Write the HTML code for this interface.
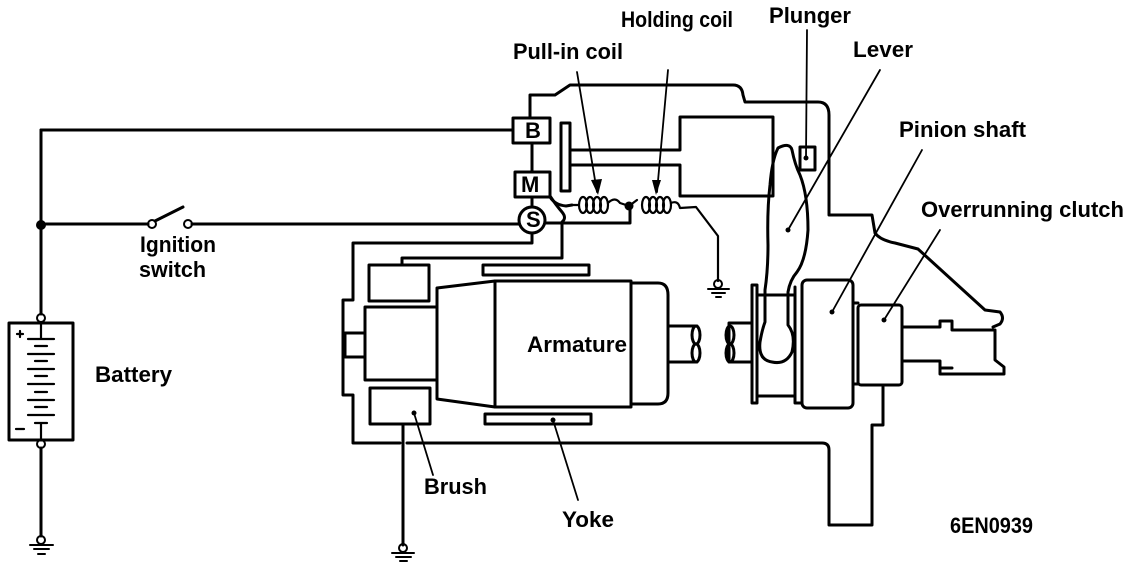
<!DOCTYPE html>
<html><head><meta charset="utf-8"><style>
html,body{margin:0;padding:0;background:#fff;}
svg{display:block}
text{font-family:"Liberation Sans",Arial,sans-serif;font-size:22px;fill:#000;font-weight:bold;}
</style></head><body>
<svg width="1136" height="574" viewBox="0 0 1136 574" xmlns="http://www.w3.org/2000/svg">
<g fill="none" stroke="#000" stroke-width="3" stroke-linejoin="round" stroke-linecap="round">
<path d="M41,130 H513"/>
<path d="M41,130 V314"/>
<path d="M41,224 H148"/>
<circle cx="152" cy="224" r="4" stroke-width="2"/>
<path d="M155,221 L183,207"/>
<circle cx="188" cy="224" r="4" stroke-width="2"/>
<path d="M192,224 H519"/>
<circle cx="41" cy="318" r="4" stroke-width="2"/>
<circle cx="41" cy="444" r="4" stroke-width="2"/>
<rect x="9" y="323" width="64" height="117"/>
<path d="M41,448 V536"/>
<g stroke-width="2.2">
<path d="M41,323 V339 M28,339 H54 M35,346 H47 M28,354 H54 M35,361 H47 M28,369 H54 M35,376 H47 M28,384 H54 M35,392 H47 M28,400 H54 M35,407 H47 M28,415 H54 M35,423 H47 M41,423 V440"/>
<path d="M17,334 H23 M20,331 V337 M16,429 H24"/>
</g>
<g stroke-width="2"><circle cx="41" cy="540" r="4"/><path d="M30,545 H53 M34,549 H49 M38,554 H45"/></g>
<rect x="513" y="118" width="37" height="25"/>
<rect x="515" y="172" width="35" height="25"/>
<circle cx="532" cy="220" r="13"/>
<path d="M530,118 V95 H555 L570,85 H733 Q742,85 743,95 L745,102 H818 Q829,102 829,115 V215 H872 L875,233 Q880,240 895,243 L918,249 L985,310 L1000,312 Q1005,318 1000,324 L993,327"/>
<path d="M532,143 V172 M532,197 V207 M532,233 V243 H353 V300 H343 V395 H353 V443 H400 M407,443 H822 Q829,443 829,450 V525 H872 V425 H883 V387"/>
<rect x="561" y="123" width="9" height="68"/>
<path d="M570,150 H680 V117 H773 V196 H680 V165 H570"/>
<path d="M550,197 Q555,205 566,206 L572,205"/>
<path d="M550,196 Q556,205 562,212 Q567,218 562,222 V258 H402 V264"/>
<path d="M545,223 H630 V207"/>
<g stroke-width="2.2">
<path d="M572,205 H578"/>
<ellipse cx="583" cy="205" rx="4" ry="8"/><ellipse cx="590" cy="205" rx="4" ry="8"/><ellipse cx="597" cy="205" rx="4" ry="8"/><ellipse cx="604" cy="205" rx="4" ry="8"/>
<path d="M608,203 Q615,196 620,203 L629,206 L637,200"/>
<ellipse cx="646" cy="205" rx="4" ry="8"/><ellipse cx="653" cy="205" rx="4" ry="8"/><ellipse cx="660" cy="205" rx="4" ry="8"/><ellipse cx="667" cy="205" rx="4" ry="8"/>
<path d="M671,203 Q678,200 680,208 L696,207 L718,236 V281"/>
</g>
<circle cx="629" cy="206" r="3" fill="#000"/>
<g stroke-width="2"><circle cx="718" cy="284" r="4"/><path d="M708,289 H729 M712,293 H725 M716,297 H721"/></g>
<rect x="369" y="265" width="60" height="36"/>
<rect x="365" y="307" width="72" height="73"/>
<path d="M365,333 H345 V357 H365"/>
<path d="M437,288 L495,281 V407 L437,399 Z"/>
<rect x="495" y="281" width="136" height="126"/>
<path d="M631,283 H658 Q668,283 668,295 V393 Q668,404 658,404 H631"/>
<path d="M668,326 H697 M668,362 H697"/>
<ellipse cx="696" cy="335" rx="4" ry="9"/><ellipse cx="696" cy="353" rx="4" ry="9"/>
<rect x="370" y="388" width="60" height="36"/>
<rect x="483" y="265" width="106" height="10"/>
<rect x="485" y="414" width="106" height="10"/>
<path d="M403,424 V545"/>
<g stroke-width="2"><circle cx="403" cy="548" r="4"/><path d="M392,553 H414 M396,557 H411 M400,561 H407"/></g>
<path d="M752,323 H729 V362 H752"/>
<ellipse cx="730" cy="335" rx="4" ry="9"/><ellipse cx="730" cy="353" rx="4" ry="9"/>
<rect x="752" y="285" width="5" height="118"/>
<path d="M757,295 H795 M757,396 H795 M795,287 V403 H802"/>
<rect x="802" y="280" width="51" height="128" rx="5"/>
<path d="M853,303 H858 M853,384 H858"/>
<rect x="858" y="305" width="44" height="80" rx="3"/>
<path d="M902,327 H940 V321 H952 V330 H995 V360 L1004,367 V374 H940 V368 H952 M902,361 H940 V368"/>
<rect x="800" y="147" width="15" height="23"/>
<path d="M778,148 Q790,142 792,150 Q795,165 800,175 Q808,195 808,230 Q806,260 797,272 Q790,280 788,292 V325 Q796,335 792,352 Q786,365 772,362 Q758,360 760,342 Q762,330 765,322 V290 Q768,270 768,245 Q767,210 770,185 Q772,160 778,148 Z"/>
<g stroke-width="1.8">
<path d="M577,72 L597,192 M668,70 L657,192 M807,30 L806,158 M880,70 L788,230 M922,150 L832,312 M940,230 L884,320 M433,475 L414,413 M578,500 L553,420"/>
</g>
</g>
<g fill="#000">
<path d="M591,180 L598,195 L602,179 Z"/><path d="M652,180 L656,195 L661,180 Z"/>
<circle cx="806" cy="158" r="2.5"/><circle cx="788" cy="230" r="2.5"/><circle cx="832" cy="312" r="2.5"/><circle cx="884" cy="320" r="2.5"/><circle cx="414" cy="413" r="2.5"/><circle cx="553" cy="420" r="2.5"/>
<circle cx="41" cy="225" r="5"/>
<text x="526" y="227" font-size="18">S</text>
<text x="525" y="138" font-size="18">B</text>
<text x="521" y="192" font-size="18">M</text>
</g>
<g lengthAdjust="spacingAndGlyphs">
<text x="513" y="59" textLength="110" lengthAdjust="spacingAndGlyphs">Pull-in coil</text>
<text x="621" y="27" textLength="112" lengthAdjust="spacingAndGlyphs">Holding coil</text>
<text x="769" y="23" textLength="82" lengthAdjust="spacingAndGlyphs">Plunger</text>
<text x="853" y="57" textLength="60" lengthAdjust="spacingAndGlyphs">Lever</text>
<text x="899" y="137" textLength="127" lengthAdjust="spacingAndGlyphs">Pinion shaft</text>
<text x="921" y="217" textLength="203" lengthAdjust="spacingAndGlyphs">Overrunning clutch</text>
<text x="140" y="252" textLength="76" lengthAdjust="spacingAndGlyphs">Ignition</text>
<text x="139" y="277" textLength="67" lengthAdjust="spacingAndGlyphs">switch</text>
<text x="95" y="382" textLength="77" lengthAdjust="spacingAndGlyphs">Battery</text>
<text x="527" y="352" textLength="100" lengthAdjust="spacingAndGlyphs">Armature</text>
<text x="424" y="494" textLength="63" lengthAdjust="spacingAndGlyphs">Brush</text>
<text x="562" y="527" textLength="52" lengthAdjust="spacingAndGlyphs">Yoke</text>
<text x="950" y="533" font-size="16" textLength="83" lengthAdjust="spacingAndGlyphs">6EN0939</text>
</g>
</svg>
</body></html>
